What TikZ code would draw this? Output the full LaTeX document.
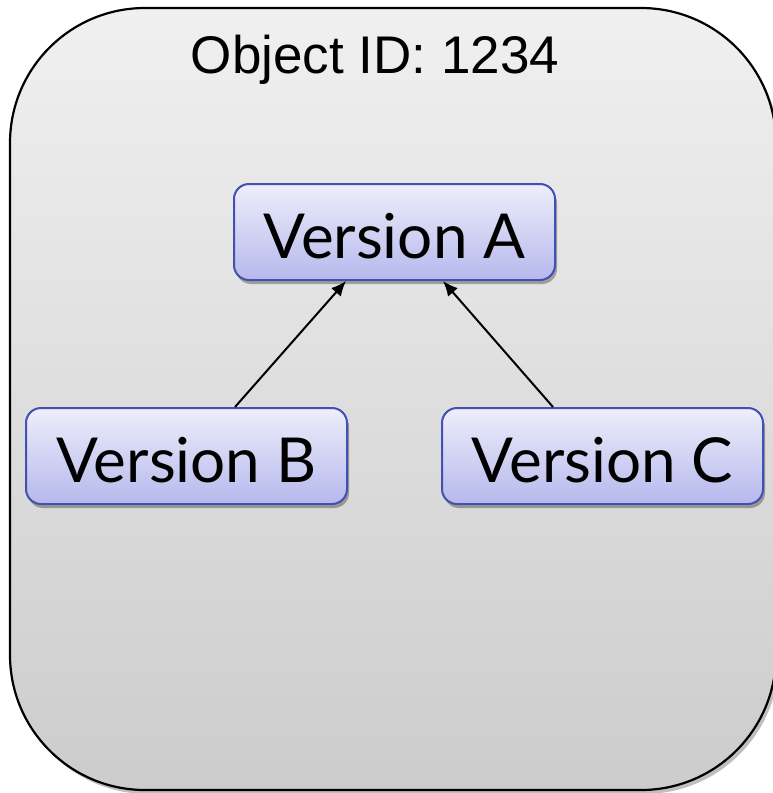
\documentclass[tikz,border=0pt]{standalone}
\usepackage{fontspec}
\setmainfont{Liberation Sans}
\newfontfamily\verfont{Lato}
\usetikzlibrary{shadows,arrows.meta}

\definecolor{outerTop}{HTML}{F0F0F0}
\definecolor{outerBot}{HTML}{CCCCCC}
\definecolor{verTop}{HTML}{EEEEFB}
\definecolor{verBot}{HTML}{B6B8EC}
\definecolor{verEdge}{HTML}{4350B0}

\tikzset{
  outerbox/.style={draw=black, line width=2.2pt, rounded corners=135pt,
    top color=outerTop, bottom color=outerBot,
    drop shadow={shadow xshift=3pt, shadow yshift=-4pt, opacity=0.25, fill=black}},
  verbox/.style={draw=verEdge, line width=2pt, rounded corners=15pt,
    top color=verTop, bottom color=verBot,
    minimum width=321pt, minimum height=96pt, inner sep=0pt,
    text height=52pt, text depth=0pt,
    font=\verfont\fontsize{62}{68}\selectfont,
    drop shadow={shadow xshift=2pt, shadow yshift=-4pt, opacity=0.3, fill=black}},
  link/.style={draw=black, line width=2pt, -{Latex[length=15pt,width=13pt]}},
  titletext/.style={font=\fontsize{53}{60}\selectfont, inner sep=0pt}
}

\begin{document}
\begin{tikzpicture}[x=1pt, y=-1pt]
  \useasboundingbox (0,0) rectangle (773,793);
  \begin{scope}
    \clip (0,0) rectangle (773,793);
    \path[outerbox] (10,8) rectangle (776,790);
  \end{scope}

  \node[titletext, anchor=base] (title) at (375,73) {Object ID: 1234};

  \node[verbox] (A) at (394.5,232) {Version A};
  \node[verbox] (B) at (186.5,456) {Version B};
  \node[verbox] (C) at (602.5,456) {Version C};

  \draw[link] ([xshift=48.5pt]B.north) -- ([xshift=-48.5pt]A.south);
  \draw[link] ([xshift=-49.5pt]C.north) -- ([xshift=48.5pt]A.south);
\end{tikzpicture}
\end{document}
